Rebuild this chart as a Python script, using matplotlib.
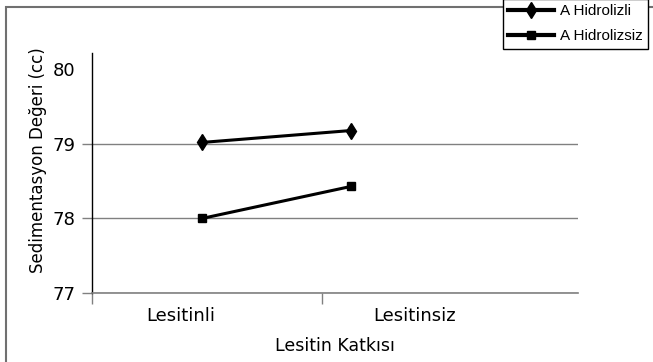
import numpy as np
import matplotlib
matplotlib.use('Agg')
import matplotlib.pyplot as plt
from matplotlib.patches import Rectangle


# data
categories = ['Lesitinli', 'Lesitinsiz']
series_names = ['A Hidrolizli', 'A Hidrolizsiz']
hidrolizli = [79.02, 79.18]
hidrolizsiz = [78.0, 78.43]
y_ticks = [77, 78, 79, 80]

fig = plt.figure(figsize=(6.53, 3.62), dpi=100)
ax = fig.add_axes([92/653, 69/362, 486/653, 240/362])

x = np.arange(len(categories))
ax.plot(x, hidrolizli, color='black', lw=2.2, marker='d', ms=8, label=series_names[0])
ax.plot(x, hidrolizsiz, color='black', lw=2.2, marker='s', ms=6, label=series_names[1])

ax.set_xlim(-0.738, 2.523)
ax.set_ylim(77, 80.22)

# y axis
ax.set_yticks(y_ticks)
ax.set_yticklabels([str(v) for v in y_ticks], fontsize=13)
ax.tick_params(axis='y', length=7, width=1, color='#808080', pad=5)
ax.yaxis.grid(True, color='#808080', lw=1.0)
top_tick = ax.yaxis.get_major_ticks()[-1]
top_tick.tick1line.set_visible(False)
top_tick.gridline.set_visible(False)

# x axis: tick marks between categories, labels as minor ticks
ax.set_xticks([-0.738, 0.805])
ax.set_xticklabels(['', ''])
ax.tick_params(axis='x', which='major', length=8, width=1, color='#808080')
ax.set_xticks([-0.14, 1.425], minor=True)
ax.set_xticklabels(categories, minor=True, fontsize=13)
ax.tick_params(axis='x', which='minor', length=0, pad=10)

ax.set_xlabel('Lesitin Katkısı', fontsize=12.5, labelpad=9)
ax.set_ylabel('Sedimentasyon Değeri (cc)', fontsize=12)
ax.yaxis.set_label_coords(-0.092, 0.555)

for s in ['top', 'right']:
    ax.spines[s].set_visible(False)
ax.spines['left'].set_color('black')
ax.spines['left'].set_linewidth(1.0)
ax.spines['bottom'].set_color('#808080')
ax.spines['bottom'].set_linewidth(1.2)

# outer frame
fig.patches.append(Rectangle((6/653, -0.1), 1.2, 1.1 - 7/362, transform=fig.transFigure,
                             fill=False, edgecolor='#707070', lw=1.5, zorder=0))

leg = fig.legend(loc='upper left', bbox_to_anchor=(503/653, 1.004), borderaxespad=0,
                 prop={'family': 'Liberation Sans', 'size': 11}, frameon=True,
                 fancybox=False, handlelength=3.0, handletextpad=0.4,
                 labelspacing=0.75, borderpad=0.35)
leg.get_frame().set_edgecolor('black')
leg.get_frame().set_linewidth(1.0)
leg.get_frame().set_facecolor('white')
leg.get_frame().set_alpha(1)
for h in leg.legend_handles:
    h.set_linewidth(3)

fig.savefig('out.png', dpi=100)
